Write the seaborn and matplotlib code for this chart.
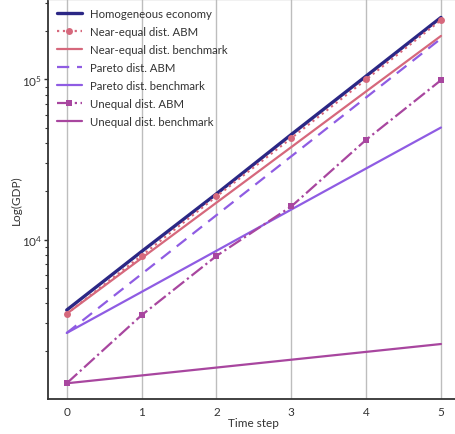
import matplotlib
matplotlib.use("Agg")
import matplotlib.pyplot as plt
import seaborn as sns
import pandas as pd

sns.set_theme(style="white")
plt.rcParams["font.family"] = ["Lato", "DejaVu Sans"]
plt.rcParams["mathtext.default"] = "regular"

# GDP per time step for each scenario
time_step = [0, 1, 2, 3, 4, 5]
homogeneous = [3630, 8420, 19300, 45300, 105000, 244000]
near_equal_abm = [3440, 7930, 18600, 43000, 100000, 235000]
near_equal_bench = [3440, 7650, 17000, 37800, 84200, 187000]
pareto_abm = [2610, 6090, 14200, 33100, 77200, 180000]
pareto_bench = [2610, 4710, 8510, 15400, 27800, 50100]
unequal_abm = [1266, 3370, 7900, 16100, 42000, 99000]
unequal_bench = [1266, 1417, 1587, 1777, 1989, 2227]

series = [
    ("Homogeneous economy", homogeneous, dict(color="#2b2785", lw=2.4, ls="-")),
    ("Near-equal dist. ABM", near_equal_abm, dict(color="#d6687c", lw=1.6, ls=":", marker="o", ms=5)),
    ("Near-equal dist. benchmark", near_equal_bench, dict(color="#d6687c", lw=1.6, ls="-")),
    ("Pareto dist. ABM", pareto_abm, dict(color="#8f5ce3", lw=1.6, ls=(0, (5.5, 3.5)))),
    ("Pareto dist. benchmark", pareto_bench, dict(color="#8f5ce3", lw=1.6, ls="-")),
    ("Unequal dist. ABM", unequal_abm, dict(color="#a8469f", lw=1.6, ls="-.", marker="s", ms=5)),
    ("Unequal dist. benchmark", unequal_bench, dict(color="#a8469f", lw=1.6, ls="-")),
]

fig = plt.figure(figsize=(4.55, 4.35), dpi=100)
ax = fig.add_axes([48 / 455, 35 / 435, 411.7 / 455, 400 / 435])

for name, values, style in series:
    df = pd.DataFrame({"Time step": time_step, "GDP": values})
    sns.lineplot(data=df, x="Time step", y="GDP", ax=ax, label=name,
                 color=style["color"], linewidth=style["lw"],
                 linestyle=style["ls"], marker=style.get("marker"),
                 markersize=style.get("ms", 0), markeredgewidth=0)

ax.set_yscale("log")
ax.set_ylim(1010, 318000)
ax.set_xlim(-0.25, 5.25)
ax.set_xticks(time_step)

ax.grid(axis="x", color="#bdbdbd", linewidth=1)
ax.grid(axis="y", visible=False)
ax.set_axisbelow(True)

for side in ("left", "bottom"):
    ax.spines[side].set_color("#333333")
    ax.spines[side].set_linewidth(1.3)
ax.spines["top"].set_color("#bbbbbb")
ax.spines["top"].set_linewidth(1)
ax.spines["right"].set_visible(False)

ax.tick_params(axis="y", which="major", left=True, length=3, width=1, color="#333333",
               labelsize=8.5, labelcolor="#333333", pad=1)
ax.tick_params(axis="y", which="minor", left=True, length=2.3, width=0.8, color="#333333")
ax.tick_params(axis="x", bottom=False, labelsize=8.5, labelcolor="#333333", pad=-1)

ax.set_xlabel("Time step", fontsize=8.5, color="#333333", labelpad=0)
ax.set_ylabel("Log(GDP)", fontsize=8.5, color="#333333", labelpad=0.5)

ax.legend(loc="upper left", frameon=False, fontsize=8.2, handlelength=2.2,
          handletextpad=0.7, labelspacing=0.62, borderaxespad=0.35,
          labelcolor="#333333")

fig.savefig("out.png", dpi=100)
